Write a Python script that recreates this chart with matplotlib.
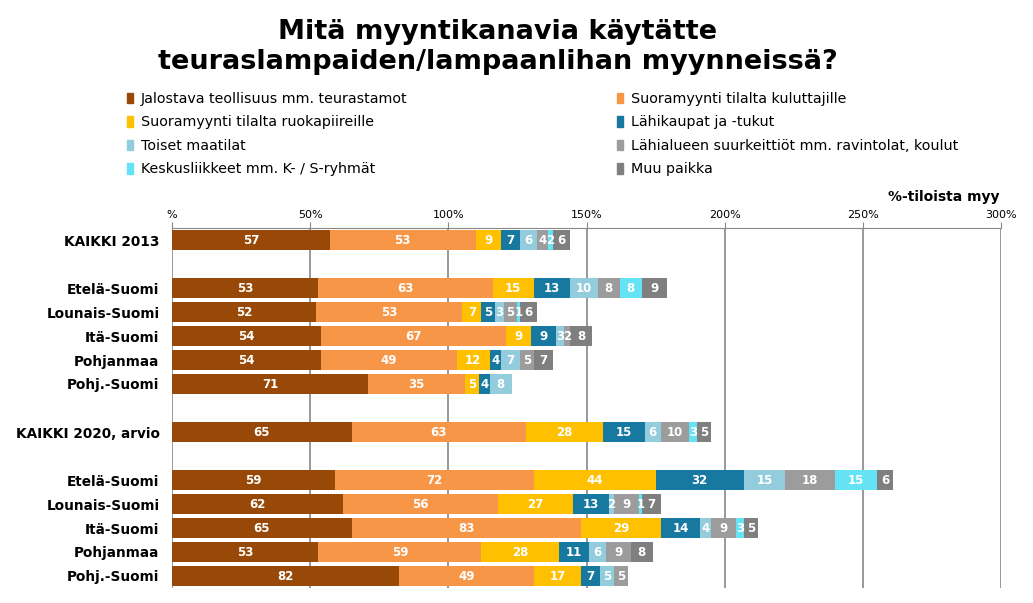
import numpy as np
import matplotlib.pyplot as plt
from matplotlib.patches import Patch

# rows (top to bottom), '' = empty spacer row
rows = ['KAIKKI 2013', '', 'Etelä-Suomi', 'Lounais-Suomi', 'Itä-Suomi', 'Pohjanmaa', 'Pohj.-Suomi',
        '', 'KAIKKI 2020, arvio', '', 'Etelä-Suomi', 'Lounais-Suomi', 'Itä-Suomi', 'Pohjanmaa', 'Pohj.-Suomi']

series = ['Jalostava teollisuus mm. teurastamot', 'Suoramyynti tilalta kuluttajille',
          'Suoramyynti tilalta ruokapiireille', 'Lähikaupat ja -tukut',
          'Toiset maatilat', 'Lähialueen suurkeittiöt mm. ravintolat, koulut',
          'Keskusliikkeet mm. K- / S-ryhmät', 'Muu paikka']

jalostava   = [57, 0, 53, 52, 54, 54, 71, 0, 65, 0, 59, 62, 65, 53, 82]
kuluttajat  = [53, 0, 63, 53, 67, 49, 35, 0, 63, 0, 72, 56, 83, 59, 49]
ruokapiirit = [9, 0, 15, 7, 9, 12, 5, 0, 28, 0, 44, 27, 29, 28, 17]
lahikaupat  = [7, 0, 13, 5, 9, 4, 4, 0, 15, 0, 32, 13, 14, 11, 7]
maatilat    = [6, 0, 10, 3, 3, 7, 8, 0, 6, 0, 15, 2, 4, 6, 5]
suurkeitt   = [4, 0, 8, 5, 2, 5, 0, 0, 10, 0, 18, 9, 9, 9, 5]
keskusliik  = [2, 0, 8, 1, 0, 0, 0, 0, 3, 0, 15, 1, 3, 0, 0]
muu         = [6, 0, 9, 6, 8, 7, 0, 0, 5, 0, 6, 7, 5, 8, 0]

colors = ['#984807', '#F79646', '#FFC000', '#17799F', '#93CDDD', '#9C9C9C', '#66E2F5', '#7F7F7F']

data = [jalostava, kuluttajat, ruokapiirit, lahikaupat, maatilat, suurkeitt, keskusliik, muu]

fig = plt.figure(figsize=(10.33, 6.03), dpi=100)
ax = fig.add_axes([172/1033, 1-588/603, 829/1033, 360/603])

y = np.arange(len(rows))
left = np.zeros(len(rows))
for vals, c in zip(data, colors):
    vals = np.array(vals, dtype=float)
    bars = ax.barh(y, vals, left=left, height=0.86, color=c, zorder=3)
    for b, v in zip(bars, vals):
        if v > 0:
            ax.text(b.get_x()+b.get_width()/2, b.get_y()+b.get_height()/2, f'{v:.0f}',
                    ha='center', va='center', color='white', fontsize=8.5,
                    fontweight='bold', zorder=4)
    left += vals

ax.set_ylim(len(rows)-0.5, -0.5)
ax.set_xlim(0, 300)
ax.set_yticks(y)
ax.set_yticklabels(rows, fontsize=9.8, fontweight='bold')
ax.tick_params(axis='y', length=0, pad=9)
ax.xaxis.tick_top()
ax.set_xticks(np.arange(0, 301, 50))
ax.set_xticklabels(['%'] + [f'{v}%' for v in range(50, 301, 50)], fontsize=8)
ax.tick_params(axis='x', length=4, color='#888888', pad=2)
ax.grid(axis='x', color='#888888', linewidth=1.2, zorder=0)
for s in ['left', 'right', 'bottom']:
    ax.spines[s].set_visible(False)
ax.spines['top'].set_color('#888888')

fig.text(1000/1033, 1-197/603, '%-tiloista myy', ha='right', va='center',
         fontsize=10, fontweight='bold')

fig.text(498/1033, 1-47/603, 'Mitä myyntikanavia käytätte\nteuraslampaiden/lampaanlihan myynneissä?',
         ha='center', va='center', fontsize=19.5, fontweight='bold', linespacing=1.22)

handles = [Patch(color=c) for c in colors]
for col, x0 in enumerate([127, 617]):
    idx = [col, col+2, col+4, col+6]
    leg = fig.legend([handles[i] for i in idx], [series[i] for i in idx],
                     loc='upper left', bbox_to_anchor=(x0/1033, 1-92/603),
                     frameon=False, fontsize=10.3, handlelength=0.4, handleheight=0.75,
                     handletextpad=0.55, labelspacing=0.66, borderaxespad=0, borderpad=0)

fig.savefig('out.png', dpi=100)
